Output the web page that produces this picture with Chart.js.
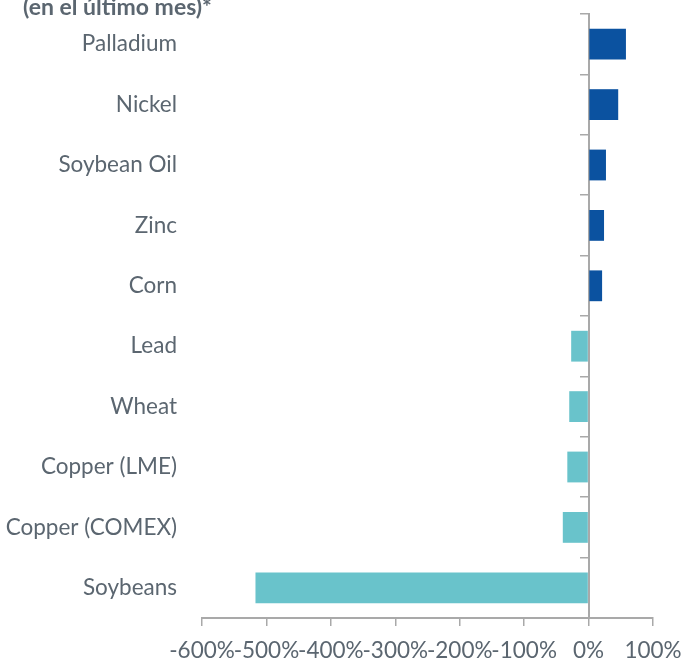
<!DOCTYPE html>
<html>
<head>
<meta charset="utf-8">
<script src="https://cdn.jsdelivr.net/npm/chart.js@4/dist/chart.umd.min.js"></script>
<style>
  html, body { margin: 0; padding: 0; background: #ffffff; }
  #wrap { position: relative; width: 684px; height: 662px; }
</style>
</head>
<body>
<div id="wrap"><canvas id="c"></canvas></div>
<script>
const title = '(en el último mes)*';
const categories = ['Palladium', 'Nickel', 'Soybean Oil', 'Zinc', 'Corn', 'Lead', 'Wheat', 'Copper (LME)', 'Copper (COMEX)', 'Soybeans'];
const changes = [58, 46, 27, 24, 21, -27, -30, -33, -40, -517];
const xTickMin = -600;
const xTickMax = 100;
const xTickStep = 100;

const TEXT = '#5b6670';
const AXIS = '#a9a9a9';
const POS = '#0b52a0';
const NEG = '#69c3cb';
const FONT = 'Lato, "Source Sans Pro", "Noto Sans", sans-serif';

const titlePlugin = {
  id: 'cornerTitle',
  afterDraw(chart) {
    const ctx = chart.ctx;
    ctx.save();
    ctx.font = 'bold 23px ' + FONT;
    ctx.fillStyle = TEXT;
    ctx.textAlign = 'left';
    ctx.textBaseline = 'alphabetic';
    ctx.fillText(title, 23, 15);
    ctx.restore();
  }
};

new Chart(document.getElementById('c'), {
  type: 'bar',
  data: {
    labels: categories,
    datasets: [{
      data: changes,
      backgroundColor: changes.map(v => v >= 0 ? POS : NEG),
      borderWidth: 0,
      barPercentage: 0.51,
      categoryPercentage: 1
    }]
  },
  options: {
    indexAxis: 'y',
    responsive: true,
    maintainAspectRatio: false,
    animation: false,
    layout: { padding: { top: 14, left: 0, right: 0, bottom: 0 } },
    plugins: { legend: { display: false }, tooltip: { enabled: false } },
    scales: {
      x: {
        type: 'linear',
        position: 'bottom',
        min: xTickMin,
        max: xTickMax,
        ticks: {
          stepSize: xTickStep,
          callback: v => v + '%',
          font: { family: FONT, size: 22.5 },
          color: TEXT,
          padding: 11,
          maxRotation: 0,
          autoSkip: false
        },
        grid: { drawOnChartArea: false, drawTicks: true, tickLength: 8, color: AXIS, lineWidth: 1.5 },
        border: { display: true, color: AXIS, width: 2 },
        afterFit(s) { s.height = 44; s.paddingLeft = 0; s.paddingRight = 31; }
      },
      y: {
        type: 'category',
        position: 'left',
        offset: true,
        ticks: { font: { family: FONT, size: 22.5 }, color: TEXT, padding: 25, autoSkip: false },
        grid: { display: false, drawTicks: false },
        border: { display: false },
        afterFit(s) { s.width = 202; s.paddingTop = 0; s.paddingBottom = 0; }
      },
      y2: {
        type: 'category',
        axis: 'y',
        position: { x: 0 },
        offset: true,
        ticks: { display: false },
        grid: { drawOnChartArea: false, drawTicks: true, tickLength: 8, offset: true, color: AXIS, lineWidth: 1.5 },
        border: { display: true, color: AXIS, width: 2 },
        afterFit(s) { s.paddingTop = 0; s.paddingBottom = 0; }
      }
    }
  },
  plugins: [titlePlugin]
});
</script>
</body>
</html>
